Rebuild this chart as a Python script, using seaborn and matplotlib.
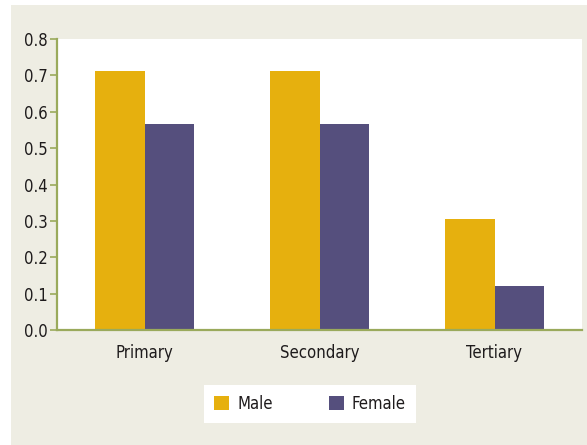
import matplotlib
matplotlib.use("Agg")
import matplotlib.pyplot as plt
import seaborn as sns
import pandas as pd
from matplotlib.patches import Rectangle

levels = ["Primary", "Secondary", "Tertiary"]
male = [0.712, 0.712, 0.305]
female = [0.566, 0.566, 0.121]
groups = ["Male", "Female"]
colors = ["#e6b00e", "#554f7d"]
y_ticks = [0.0, 0.1, 0.2, 0.3, 0.4, 0.5, 0.6, 0.7, 0.8]

df = pd.DataFrame({
    "Level": levels * 2,
    "Value": male + female,
    "Sex": [groups[0]] * len(levels) + [groups[1]] * len(levels),
})

sns.set_style("white")
plt.rcParams["font.family"] = ["DejaVu Sans"]
plt.rcParams["font.stretch"] = "condensed"

W, H = 587, 445
fig = plt.figure(figsize=(W / 100, H / 100), dpi=100, facecolor="white")
bg = "#eeede3"
fig.patches.append(Rectangle((11 / W, 0), 1 - 11 / W, 1 - 5 / H,
                             transform=fig.transFigure, facecolor=bg,
                             edgecolor="none", zorder=-10))

ax = fig.add_axes([57 / W, 1 - 330 / H, (582 - 57) / W, (330 - 39) / H])
ax.set_facecolor("white")

sns.barplot(data=df, x="Level", y="Value", hue="Sex", palette=colors,
            width=0.57, saturation=1, ax=ax, legend=False, edgecolor="none")

ax.set_xlim(-0.5, 2.5)
ax.set_ylim(0, 0.8)
ax.set_yticks(y_ticks)
ax.set_yticklabels([f"{v:.1f}" for v in y_ticks], fontsize=12, color="#1e1b1c")
ax.tick_params(axis="x", length=0, labelsize=12, colors="#1e1b1c", pad=10)
ax.tick_params(axis="y", left=True, length=5, width=1.2, color="#9aaa5c", pad=2)
ax.set_xlabel("")
ax.set_ylabel("")

for s in ["top", "right"]:
    ax.spines[s].set_visible(False)
for s in ["left", "bottom"]:
    ax.spines[s].set_color("#9aaa5c")
    ax.spines[s].set_linewidth(1.6)

handles = [Rectangle((0, 0), 1, 1, facecolor=c, edgecolor="none") for c in colors]
leg = fig.legend(handles, groups, loc="center", bbox_to_anchor=(310 / W, 1 - 404 / H),
                 ncol=2, frameon=True, fancybox=False, fontsize=12, framealpha=1,
                 handlelength=0.9, handleheight=0.9, handletextpad=0.5,
                 columnspacing=3.35, borderpad=0.6, borderaxespad=0)
leg.get_frame().set_facecolor("white")
leg.get_frame().set_edgecolor("none")
for t in leg.get_texts():
    t.set_color("#1e1b1c")

fig.savefig("out.png", dpi=100, facecolor="white")
